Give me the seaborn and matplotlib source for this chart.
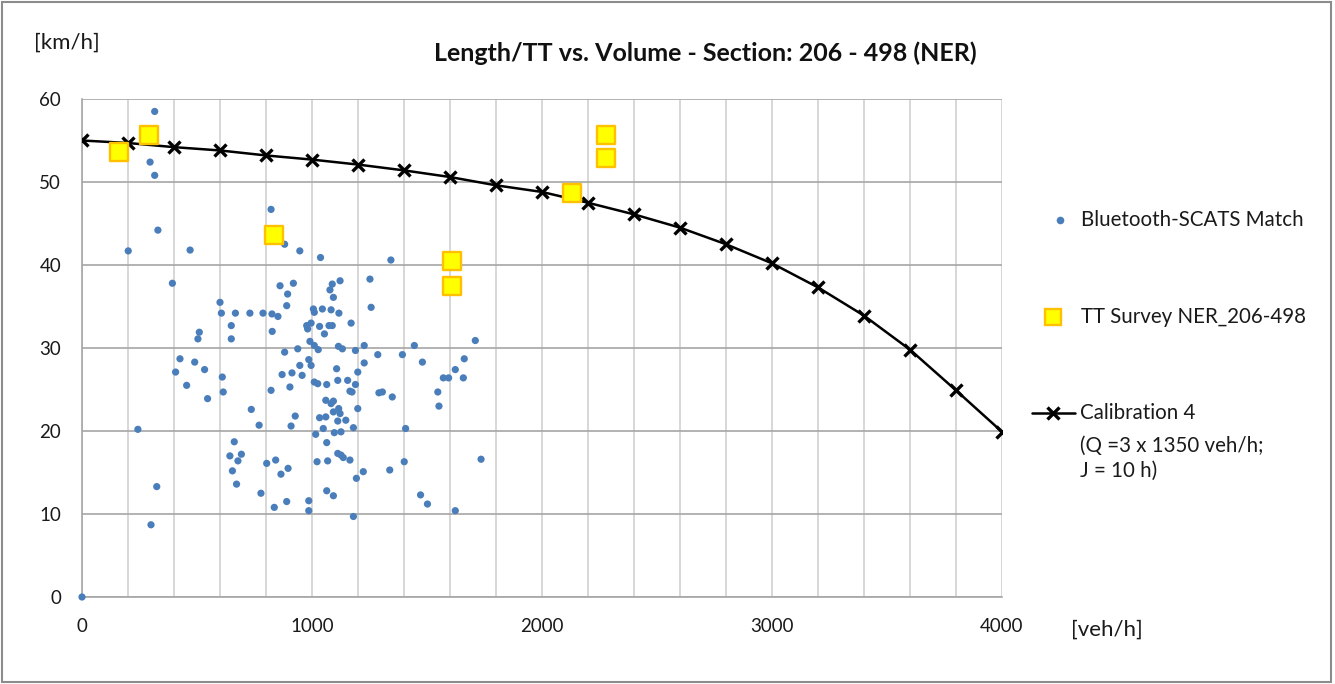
import numpy as np
import pandas as pd
import matplotlib
matplotlib.use("Agg")
import matplotlib.pyplot as plt
from matplotlib.lines import Line2D
from matplotlib.patches import Rectangle
import seaborn as sns

sns.set_theme(style="white")
plt.rcParams["font.family"] = ["Lato", "DejaVu Sans"]

# Bluetooth-SCATS matched observations: volume [veh/h], speed [km/h]
bt_volume = [
    0, 316, 296, 316, 330, 201, 470, 393, 325, 300, 243,
    822, 881, 947, 1037,
    861, 919, 894, 890, 600, 606, 667, 730, 787, 826, 852, 649, 827, 510, 504,
    649, 426, 490, 407, 533, 610, 455, 614, 546, 881, 938, 986, 996, 947, 870,
    913, 957, 904, 822, 736, 770, 927, 909, 662, 1016, 1006, 1010, 977, 981,
    996, 1033, 991, 1010, 1027, 1010, 1025, 1033,
    643, 693, 678, 654, 672, 803, 842, 896, 865, 778, 836, 890, 986, 986, 1022,
    1088, 1122, 1078, 1093, 1045, 1083, 1117, 1170, 1074, 1088, 1054, 1115,
    1132, 1189, 1107, 1112, 1155, 1064, 1189, 1060, 1083, 1093, 1165, 1174,
    1199, 1093, 1116, 1122, 1060, 1112, 1147, 1049, 1180, 1097, 1126, 1064,
    1068, 1112, 1126, 1136, 1165, 1193, 1064, 1093, 1180,
    1343, 1252, 1257, 1227, 1286, 1393, 1445, 1480, 1710, 1662, 1623, 1571,
    1594, 1658, 1227, 1199, 1291, 1306, 1349, 1547, 1552, 1407, 1223, 1338,
    1401, 1472, 1502, 1623, 1735,
]
bt_speed = [
    0.0, 58.5, 52.4, 50.8, 44.2, 41.7, 41.8, 37.8, 13.3, 8.7, 20.2,
    46.7, 42.5, 41.7, 40.9,
    37.5, 37.8, 36.5, 35.1, 35.5, 34.2, 34.2, 34.2, 34.2, 34.1, 33.8, 32.7, 32.0, 31.9, 31.1,
    31.1, 28.7, 28.3, 27.1, 27.4, 26.5, 25.5, 24.7, 23.9, 29.5, 29.9, 28.6, 27.9, 27.9, 26.8,
    27.0, 26.7, 25.3, 24.9, 22.6, 20.7, 21.8, 20.6, 18.7, 19.6, 34.7, 34.3, 32.7, 32.3,
    33.0, 32.6, 30.8, 30.3, 29.8, 25.9, 25.7, 21.6,
    17.0, 17.2, 16.4, 15.2, 13.6, 16.1, 16.5, 15.5, 14.8, 12.5, 10.8, 11.5, 11.6, 10.4, 16.3,
    37.7, 38.1, 37.0, 36.1, 34.7, 34.6, 34.2, 33.0, 32.7, 32.7, 31.7, 30.2,
    29.9, 29.7, 27.5, 26.1, 26.1, 25.6, 25.6, 23.7, 23.3, 23.6, 24.8, 24.7,
    22.7, 22.3, 22.7, 22.1, 21.7, 21.2, 21.3, 20.3, 20.4, 19.8, 19.9, 18.6,
    16.4, 17.3, 17.1, 16.8, 16.5, 14.3, 12.8, 12.2, 9.7,
    40.6, 38.3, 34.9, 30.3, 29.2, 29.2, 30.3, 28.3, 30.9, 28.7, 27.4, 26.4,
    26.4, 26.4, 28.2, 27.1, 24.6, 24.7, 24.1, 24.7, 23.0, 20.3, 15.1, 15.3,
    16.3, 12.3, 11.2, 10.4, 16.6,
]

# Travel-time survey NER_206-498
tt_volume = [161, 291, 835, 1609, 1609, 2130, 2278, 2278]
tt_speed = [53.6, 55.7, 43.6, 40.5, 37.5, 48.7, 55.7, 52.9]

# Calibration 4 volume-delay curve
cal_volume = [0, 200, 400, 600, 800, 1000, 1200, 1400, 1600, 1800, 2000,
              2200, 2400, 2600, 2800, 3000, 3200, 3400, 3600, 3800, 4000]
cal_speed = [55.0, 54.7, 54.2, 53.8, 53.2, 52.7, 52.1, 51.4, 50.6, 49.6, 48.8,
             47.5, 46.1, 44.5, 42.5, 40.2, 37.3, 33.9, 29.8, 24.9, 19.9]

x_ticks = [0, 1000, 2000, 3000, 4000]
y_ticks = [0, 10, 20, 30, 40, 50, 60]

bt = pd.DataFrame({"volume": bt_volume, "speed": bt_speed})
tt = pd.DataFrame({"volume": tt_volume, "speed": tt_speed})
cal = pd.DataFrame({"volume": cal_volume, "speed": cal_speed})

W, H = 1335, 684
fig = plt.figure(figsize=(W / 100, H / 100), dpi=100)
fig.patch.set_facecolor("white")


def fx(px):
    return px / W


def fy(py):
    return 1 - py / H


ax = fig.add_axes([fx(82), fy(597), fx(1002) - fx(82), fy(99) - fy(597)])
ax.set_facecolor("white")

BLUE = "#4a7ebb"
GRID_V = "#d4d4d4"
GRID_H = "#a6a6a6"
TXT = "#1a1a1a"

sns.lineplot(data=cal, x="volume", y="speed", ax=ax, color="black", lw=1.8,
             marker="x", markersize=8, markeredgewidth=2.4,
             markeredgecolor="black", zorder=3, legend=False)
sns.scatterplot(data=bt, x="volume", y="speed", ax=ax, color=BLUE, s=27,
                edgecolor="none", zorder=4, legend=False, clip_on=False)
sns.scatterplot(data=tt, x="volume", y="speed", ax=ax, marker="s", s=170,
                color="#ffff00", edgecolor="#ffc000", linewidth=1.7,
                zorder=5, legend=False)

ax.set_xlim(0, 4000)
ax.set_ylim(0, 60)
ax.set_xticks(x_ticks)
ax.set_xticks(np.arange(0, 4001, 200), minor=True)
ax.set_yticks(y_ticks)
ax.set_xticklabels([str(v) for v in x_ticks])
ax.set_yticklabels([str(v) for v in y_ticks])
ax.grid(axis="x", which="both", color=GRID_V, lw=1.3, zorder=0)
ax.grid(axis="y", which="major", color=GRID_H, lw=1.2, zorder=0)
ax.set_axisbelow(True)
for side in ["top", "right"]:
    ax.spines[side].set_visible(False)
for side in ["left", "bottom"]:
    ax.spines[side].set_color(GRID_H)
    ax.spines[side].set_linewidth(1.2)
ax.tick_params(axis="x", which="major", length=5, width=1.2, color=GRID_H,
               labelsize=13.5, pad=10, labelcolor=TXT)
ax.tick_params(axis="x", which="minor", length=0)
ax.tick_params(axis="y", which="major", length=5, width=1.2, color=GRID_H,
               labelsize=13.5, pad=10, labelcolor=TXT)
ax.set_xlabel("")
ax.set_ylabel("")

fig.text(fx(34), fy(43), "[km/h]", fontsize=16, color=TXT,
         ha="left", va="center")
fig.text(fx(1071), fy(630), "[veh/h]", fontsize=16, color=TXT,
         ha="left", va="center")
fig.text(fx(705), fy(53), "Length/TT vs. Volume - Section: 206 - 498 (NER)",
         fontsize=18, fontweight="bold", color="#111111",
         ha="center", va="center")

# legend drawn in figure space
LEG_FS = 14.8
fig.add_artist(Line2D([fx(1060)], [fy(220)], marker="o", markersize=5.5,
                      color=BLUE, markeredgecolor="none", lw=0,
                      transform=fig.transFigure))
fig.text(fx(1081), fy(220), "Bluetooth-SCATS Match", fontsize=LEG_FS,
         color=TXT, ha="left", va="center")
fig.add_artist(Line2D([fx(1053)], [fy(317)], marker="s", markersize=11.5,
                      markerfacecolor="#ffff00", markeredgecolor="#ffc000",
                      markeredgewidth=1.7, lw=0, transform=fig.transFigure))
fig.text(fx(1081), fy(317), "TT Survey NER_206-498", fontsize=LEG_FS,
         color=TXT, ha="left", va="center")
fig.add_artist(Line2D([fx(1032), fx(1075)], [fy(413), fy(413)], color="black",
                      lw=1.8, transform=fig.transFigure))
fig.add_artist(Line2D([fx(1053)], [fy(413)], marker="x", markersize=8,
                      markeredgewidth=2.4, color="black", lw=0,
                      transform=fig.transFigure))
fig.text(fx(1080), fy(413), "Calibration 4", fontsize=LEG_FS, color=TXT,
         ha="left", va="center")
fig.text(fx(1080), fy(446), "(Q =3 x 1350 veh/h;", fontsize=LEG_FS,
         color=TXT, ha="left", va="center")
fig.text(fx(1080), fy(471), "J = 10 h)", fontsize=LEG_FS, color=TXT,
         ha="left", va="center")

# chart-area frame
fig.add_artist(Rectangle((fx(2), fy(682)), fx(1329), fy(2) - fy(682),
                         fill=False, edgecolor="#8c8c8c", lw=1.5,
                         transform=fig.transFigure))

fig.savefig("out.png", dpi=100, facecolor="white")
